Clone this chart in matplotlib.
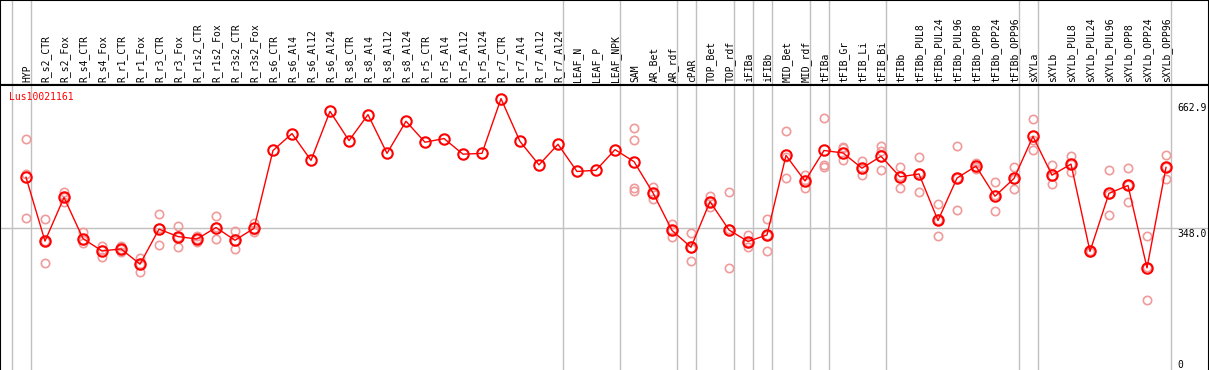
#!/usr/bin/env python3
"""Expression profile of one gene across tissue samples."""

from __future__ import annotations

import matplotlib

matplotlib.use("Agg")
import matplotlib.pyplot as plt
import matplotlib.transforms as mtransforms

GENE = "Lus10021161"

SAMPLES = [
    "HYP", "R_s2_CTR", "R_s2_Fox", "R_s4_CTR", "R_s4_Fox", "R_r1_CTR",
    "R_r1_Fox", "R_r3_CTR", "R_r3_Fox", "R_r1s2_CTR", "R_r1s2_Fox",
    "R_r3s2_CTR", "R_r3s2_Fox", "R_s6_CTR", "R_s6_Al4", "R_s6_Al12",
    "R_s6_Al24", "R_s8_CTR", "R_s8_Al4", "R_s8_Al12", "R_s8_Al24",
    "R_r5_CTR", "R_r5_Al4", "R_r5_Al12", "R_r5_Al24", "R_r7_CTR",
    "R_r7_Al4", "R_r7_Al12", "R_r7_Al24", "LEAF_N", "LEAF_P", "LEAF_NPK",
    "SAM", "AR_Bet", "AR_rdf", "cPAR", "TOP_Bet", "TOP_rdf", "iFIBa",
    "iFIBb", "MID_Bet", "MID_rdf", "tFIBa", "tFIB_Gr", "tFIB_Li", "tFIB_Bi",
    "tFIBb", "tFIBb_PUL8", "tFIBb_PUL24", "tFIBb_PUL96", "tFIBb_OPP8",
    "tFIBb_OPP24", "tFIBb_OPP96", "sXYLa", "sXYLb", "sXYLb_PUL8",
    "sXYLb_PUL24", "sXYLb_PUL96", "sXYLb_OPP8", "sXYLb_OPP24", "sXYLb_OPP96",
]

MEANS = [
    472, 317, 423, 323, 293, 298, 261, 346, 328, 322, 350, 319, 348,
    537, 578, 513, 632, 561, 624, 530, 608, 557, 566, 528, 530, 662.9,
    559, 502, 552, 486, 489, 539,
    510, 434, 343, 302, 413, 344, 316, 332, 525, 463,
    537, 531, 494, 523, 473, 480, 367, 470, 499, 426, 469,
    571, 477, 504, 292, 433, 452, 252, 496,
]

REPLICATES = [
    [564, 481, 372], [370, 263, 317], [436, 412, 423], [339, 312, 320],
    [305, 278, 295], [306, 291, 298], [277, 243, 262], [382, 307, 348],
    [354, 303, 327], [329, 315, 322], [378, 321, 351], [342, 297, 318],
    [361, 340, 343],
    [], [], [], [], [], [], [], [], [], [], [], [], [], [], [], [], [], [], [],
    [591, 562, 447, 439], [449, 420, 433], [358, 328, 343], [337, 269, 300],
    [427, 400, 413], [435, 251, 346], [331, 303, 315], [370, 293, 333],
    [584, 470, 521], [478, 445, 466],
    [616, 501, 498], [545, 542, 513], [512, 477, 494], [548, 535, 489],
    [497, 446, 476], [520, 437, 483], [406, 329, 367], [549, 392, 469],
    [507, 492, 498], [460, 391, 428], [498, 443, 467],
    [613, 537, 563], [501, 455, 475], [523, 485, 504], [294, 290, 292],
    [489, 380, 431], [494, 411, 452], [329, 173, 254], [525, 467, 496],
]

# group separators sit just after these sample indices
GROUP_ENDS = [-1, 0, 28, 31, 34, 35, 37, 38, 39, 41, 42, 45, 52, 53, 60]

Y_TICKS = [662.9, 348.0, 0]

GRID = "#c0c0c0"
LINE_RED = "#ff0000"
REP_RED = "#f09a9a"
MONO = "DejaVu Sans Mono"


def main() -> None:
    fig = plt.figure(figsize=(12.09, 3.70), dpi=100)
    head_h = 85 / 370
    head = fig.add_axes([0, 1 - head_h, 1, head_h])
    ax = fig.add_axes([0, 0, 1, 1 - head_h])

    xlim = (-26 / 19, (1209 - 26) / 19)
    for axis in (head, ax):
        axis.set_xlim(*xlim)
        axis.set_xticks([])
        axis.set_yticks([])
        for end in GROUP_ENDS:
            axis.axvline(end + 0.25, color=GRID, linewidth=1.0, zorder=0)
        for side in ("left", "right", "top"):
            axis.spines[side].set_color("black")
            axis.spines[side].set_linewidth(1.5)
    head.set_ylim(0, 1)
    head.spines["bottom"].set_linewidth(1.5)
    ax.spines["bottom"].set_visible(False)

    for i, name in enumerate(SAMPLES):
        head.text(i + 0.05, 0.03, name, rotation=90, ha="center", va="bottom",
                  fontsize=7, family=MONO, color="black")

    ax.set_ylim(4, 696)
    ax.axhline(Y_TICKS[1], color=GRID, linewidth=1.0, zorder=0)

    for i, reps in enumerate(REPLICATES):
        if reps:
            ax.plot([i] * len(reps), reps, linestyle="none", marker="o",
                    markersize=6, markerfacecolor="none",
                    markeredgecolor=REP_RED, markeredgewidth=1.2, zorder=2)
    ax.plot(range(len(MEANS)), MEANS, color=LINE_RED, linewidth=1.0,
            marker="o", markersize=7.5, markerfacecolor="none",
            markeredgecolor=LINE_RED, markeredgewidth=1.5, zorder=3)

    ax.text(9 / 1209, 1 - 7 / 285, GENE, transform=ax.transAxes,
            ha="left", va="top", fontsize=7, family=MONO, color=LINE_RED)

    trans = mtransforms.blended_transform_factory(ax.transAxes, ax.transData)
    offsets = [-4, -1, 12]
    for value, dy in zip(Y_TICKS, offsets):
        label = "0" if value == 0 else f"{value:.1f}"
        ax.annotate(label, xy=(1177 / 1209, value), xycoords=trans,
                    xytext=(0, dy), textcoords="offset pixels",
                    ha="left", va="top", fontsize=7, family=MONO,
                    color="black", annotation_clip=False)

    fig.savefig("out.png", dpi=100)
    plt.close(fig)


if __name__ == "__main__":
    main()
